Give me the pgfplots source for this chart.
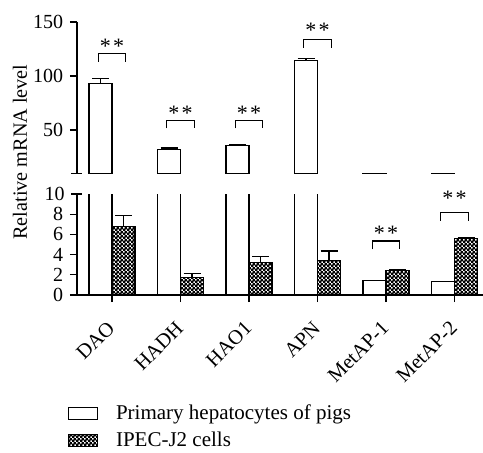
\documentclass[border=0pt]{standalone}
\usepackage{fontspec}
\setmainfont{Liberation Serif}
\usepackage{pgfplots}
\pgfplotsset{compat=1.18}
\usetikzlibrary{patterns}
\newcommand\chartfont{\fontsize{20.2}{24}\selectfont}
\newcommand\tickfont{\fontsize{20}{24}\selectfont}
\newcommand\legfont{\fontsize{21}{25}\selectfont}
\newcommand\starfont{\fontsize{22}{26}\selectfont}
\newcommand\stars{{\starfont*\kern2.5pt*}}
\pgfdeclarepatternformonly{checker}{\pgfpointorigin}{\pgfpoint{3.6pt}{3.6pt}}{\pgfpoint{3.6pt}{3.6pt}}{%
  \pgfpathrectangle{\pgfpointorigin}{\pgfpoint{2.5pt}{2.5pt}}%
  \pgfpathrectangle{\pgfpoint{1.8pt}{1.8pt}}{\pgfpoint{2.5pt}{2.5pt}}%
  \pgfusepath{fill}}

\pgfplotstableread{
x  hep   hepe  ipec  ipece
0  93.0  4.7   6.75  1.10
1  32.0  1.4   1.75  0.40
2  35.5  0.9   3.25  0.60
3  114.5 1.6   3.45  0.90
4  1.40  0.05  2.40  0.10
5  1.30  0.05  5.60  0.12
}\datatable

\pgfplotsset{
  common/.style={
    scale only axis, width=406pt,
    xmin=-0.511, xmax=5.416,
    clip mode=individual,
    axis line style={line width=1.2pt,-},
    every tick/.style={line width=1.2pt, black},
    major tick length=7pt,
    tick align=outside,
    /pgf/number format/assume math mode=true,
    tick label style={font=\tickfont},
  },
  whitebar/.style={ybar, bar width=23pt, bar shift=-11.5pt, draw=black, fill=white, line width=1.2pt,
    /pgfplots/error bars/y dir=plus, /pgfplots/error bars/y explicit,
    /pgfplots/error bars/error bar style={line width=1.2pt, xshift=-11.5pt},
    /pgfplots/error bars/error mark options={rotate=90, mark size=8.5pt, line width=1.2pt}},
  checkbar/.style={ybar, bar width=23pt, bar shift=11.5pt, draw=black, pattern=checker, pattern color=black, line width=1.2pt,
    /pgfplots/error bars/y dir=plus, /pgfplots/error bars/y explicit,
    /pgfplots/error bars/error bar style={line width=1.2pt, xshift=11.5pt},
    /pgfplots/error bars/error mark options={rotate=90, mark size=8.5pt, line width=1.2pt}},
}

\begin{document}
\chartfont
\begin{tikzpicture}[font=\chartfont]
\useasboundingbox (-77pt,-158pt) rectangle (406pt,295pt);

% lower axis
\begin{axis}[common,
  at={(0pt,0pt)}, anchor=south west,
  height=101pt,
  ymin=0, ymax=10,
  axis x line*=bottom, axis y line*=left,
  ytick={0,2,4,6,8},
  extra y ticks={10}, extra y tick labels={10},
  extra y tick style={tick align=center, major tick length=11pt},
  xtick={0,1,2,3,4,5},
  xticklabels={DAO,HADH,HAO1,APN,MetAP-1,MetAP-2},
  xticklabel style={rotate=45, anchor=east, inner sep=1pt, font=\fontsize{20.5}{24}\selectfont},
  xticklabel shift=22pt,
  legend style={draw=none, at={(axis description cs:-0.03,-1.04)}, anchor=north west,
    legend cell align=left, row sep=6pt, column sep=16pt, font=\legfont},
]
\addplot[whitebar, /pgfplots/legend image code/.code={\draw[draw=black,fill=white,line width=1pt] (0pt,-6pt) rectangle (29pt,6pt);}]
  table[x=x, y=hep, y error=hepe] {\datatable};
\addlegendentry{\legfont Primary hepatocytes of pigs}
\addplot[checkbar, /pgfplots/legend image code/.code={\draw[draw=black,pattern=checker,pattern color=black,line width=1pt] (0pt,-6pt) rectangle (29pt,6pt);}]
  table[x=x, y=ipec, y error=ipece] {\datatable};
\addlegendentry{\legfont IPEC-J2 cells}
% significance brackets
\draw[line width=1.2pt] (axis cs:3.8,4.52) -- (axis cs:3.8,5.35) -- (axis cs:4.2,5.35) -- (axis cs:4.2,4.52);
\node at (axis cs:4,6.1) {\stars};
\draw[line width=1.2pt] (axis cs:4.8,7.36) -- (axis cs:4.8,8.19) -- (axis cs:5.2,8.19) -- (axis cs:5.2,7.36);
\node at (axis cs:5,9.55) {\stars};
\end{axis}

% upper axis
\begin{axis}[common,
  at={(0pt,121.7pt)}, anchor=south west,
  height=151.3pt,
  ymin=10, ymax=150,
  axis x line=none, axis y line*=left,
  ytick={50,100,150},
  extra y ticks={10}, extra y tick labels={},
  extra y tick style={tick align=center, major tick length=11pt},
]
\addplot[whitebar] table[x=x, y=hep, y error=hepe] {\datatable};
\draw[line width=1.2pt] (axis cs:-0.2,113.3) -- (axis cs:-0.2,120.6) -- (axis cs:0.2,120.6) -- (axis cs:0.2,113.3);
\node at (axis cs:0,127.5) {\stars};
\draw[line width=1.2pt] (axis cs:0.8,51.6) -- (axis cs:0.8,58.9) -- (axis cs:1.2,58.9) -- (axis cs:1.2,51.6);
\node at (axis cs:1,65.5) {\stars};
\draw[line width=1.2pt] (axis cs:1.8,51.6) -- (axis cs:1.8,58.9) -- (axis cs:2.2,58.9) -- (axis cs:2.2,51.6);
\node at (axis cs:2,65.5) {\stars};
\draw[line width=1.2pt] (axis cs:2.8,126.4) -- (axis cs:2.8,134.1) -- (axis cs:3.2,134.1) -- (axis cs:3.2,126.4);
\node at (axis cs:3,142.5) {\stars};
\end{axis}

\node[rotate=90] at (-57pt,143pt) {Relative mRNA level};
\end{tikzpicture}
\end{document}
